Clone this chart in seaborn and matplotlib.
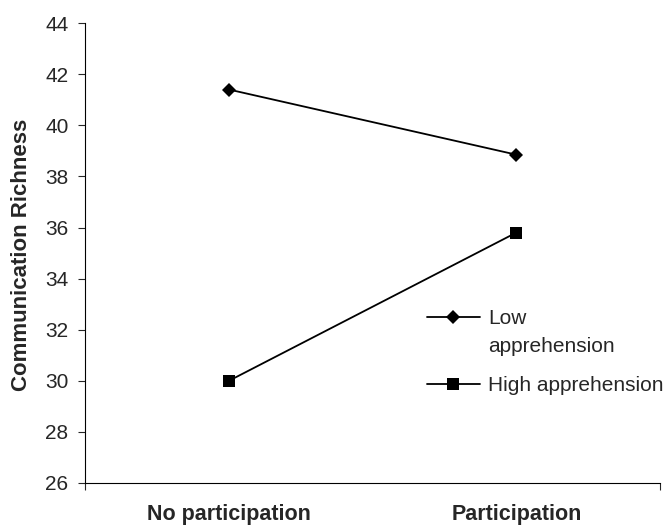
import pandas as pd
import matplotlib.pyplot as plt
import seaborn as sns

# data
conditions = ["No participation", "Participation"]
low_apprehension = [41.4, 38.85]
high_apprehension = [30.0, 35.8]
series_names = ["Low apprehension", "High apprehension"]

df = pd.DataFrame({
    "condition": conditions * 2,
    "richness": low_apprehension + high_apprehension,
    "group": [series_names[0]] * 2 + [series_names[1]] * 2,
})

sns.set_style("white")
plt.rcParams['font.family'] = ['Liberation Sans', 'DejaVu Sans']

fig = plt.figure(figsize=(6.66, 5.25), dpi=100)
ax = fig.add_axes([0.128, 0.08, 0.863, 0.876])

# one lineplot call per series so each gets its own marker size
styles = {series_names[0]: ("D", 7.5), series_names[1]: ("s", 9)}
for name in series_names:
    marker, ms = styles[name]
    sns.lineplot(data=df[df["group"] == name], x="condition", y="richness",
                 color="black", marker=marker, markersize=ms, markeredgewidth=0,
                 linewidth=1.3, label=name, sort=False, ax=ax)

ax.set_ylim(26, 44)
ax.set_yticks(range(26, 45, 2))
ax.set_xlim(-0.5, 1.5)
ax.set_xticks([-0.5, 1.5])
ax.set_xticklabels([])
ax.set_xticks([0, 1], minor=True)
ax.set_xticklabels(conditions, minor=True, fontweight='bold', fontsize=15.5)
ax.tick_params(axis='x', which='minor', length=0, pad=15)
ax.tick_params(axis='x', which='major', direction='out', length=5, width=0.8, bottom=True)
ax.tick_params(axis='y', direction='out', length=5, width=0.8, labelsize=15, left=True, pad=7)

ax.set_xlabel("")
ax.set_ylabel("Communication Richness", fontweight='bold', fontsize=16)
ax.yaxis.set_label_coords(-0.093, 0.495)

for s in ["top", "right"]:
    ax.spines[s].set_visible(False)
for s in ["left", "bottom"]:
    ax.spines[s].set_color("black")
    ax.spines[s].set_linewidth(0.8)

# legend: first label wraps onto a second line, with the handle beside the first line
handles, labels = ax.get_legend_handles_labels()
leg = ax.legend(handles, ["Low", "High apprehension"], loc="upper left",
                bbox_to_anchor=(0.641, 0.411), bbox_transform=fig.transFigure,
                frameon=False, fontsize=15, handlelength=2.55, handletextpad=0.38,
                labelspacing=2.3, borderpad=0, borderaxespad=0)
ax.annotate("apprehension", xy=(0, 0.5), xycoords=leg.get_texts()[0],
            xytext=(0, -20), textcoords="offset points", va="center", ha="left",
            fontsize=15, zorder=10)

plt.savefig("out.png", dpi=100)
